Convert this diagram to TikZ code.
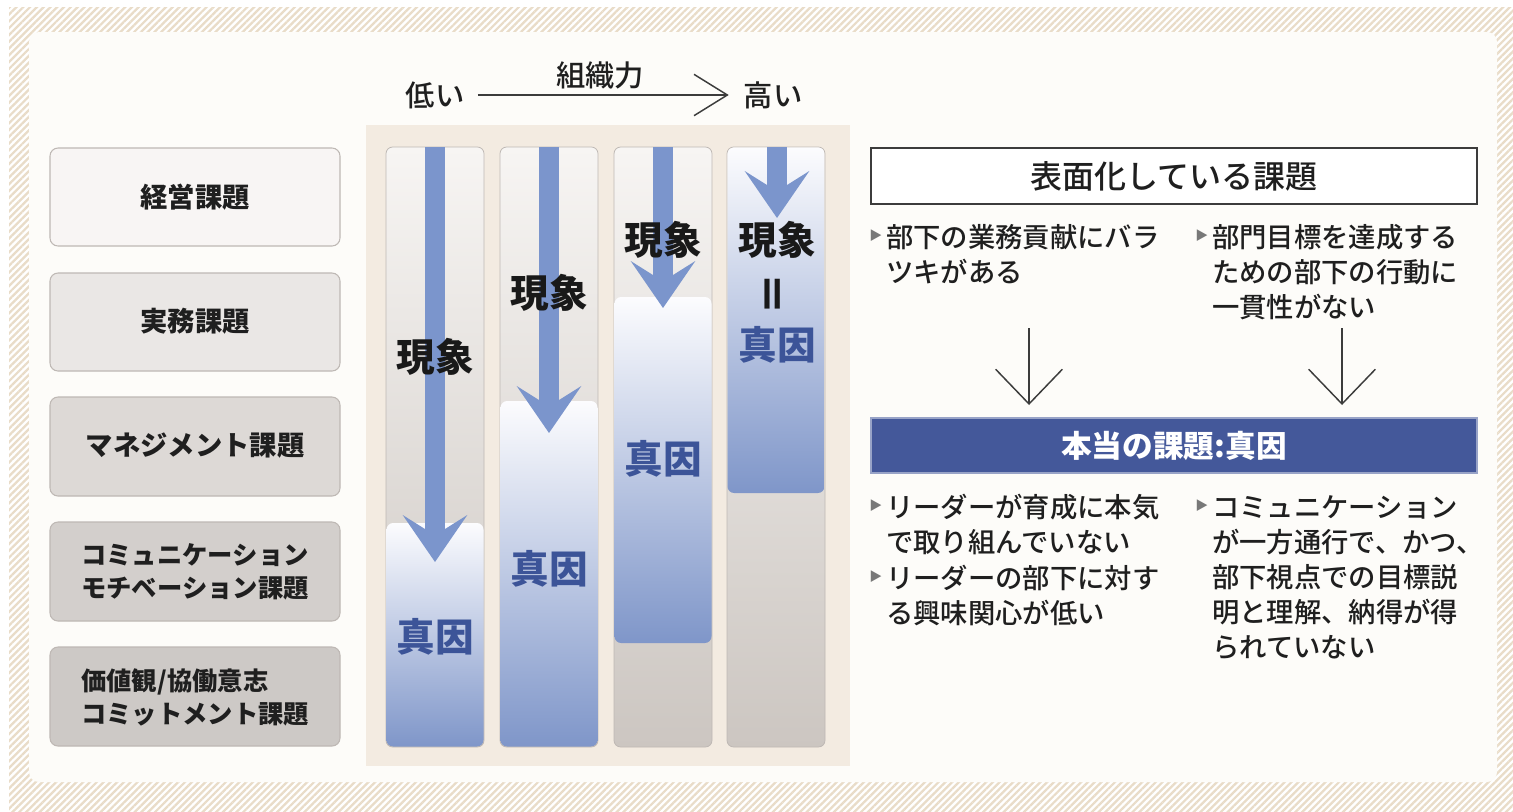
\documentclass[tikz,border=0pt]{standalone}
\usepackage{fontspec}
\setmainfont{Noto Sans CJK JP}
\newfontfamily\mediumfont{Noto Sans CJK JP Medium}
\newfontfamily\symfont{DejaVu Sans}
\usetikzlibrary{arrows.meta,patterns.meta}

\definecolor{hatchbeige}{RGB}{233,220,200}
\definecolor{cardwhite}{RGB}{253,252,249}
\definecolor{panelbeige}{RGB}{243,235,225}
\definecolor{boxedge}{RGB}{190,184,180}
\definecolor{levelA}{RGB}{248,245,244}
\definecolor{levelB}{RGB}{234,231,229}
\definecolor{levelC}{RGB}{221,217,214}
\definecolor{levelD}{RGB}{211,207,204}
\definecolor{levelE}{RGB}{205,201,198}
\definecolor{colTop}{RGB}{247,245,243}
\definecolor{colBottom}{RGB}{204,198,193}
\definecolor{causeTop}{RGB}{252,252,254}
\definecolor{causeBottom}{RGB}{127,150,201}
\definecolor{flowblue}{RGB}{123,149,204}
\definecolor{causetext}{RGB}{60,84,152}
\definecolor{bannerblue}{RGB}{68,88,154}
\definecolor{inkgray}{RGB}{60,60,60}
\definecolor{bulletgray}{RGB}{120,120,120}

\newcommand{\tribullet}{\llap{{\symfont\fontsize{24}{24}\selectfont\textcolor{bulletgray}{‣}}\hspace{0.5pt}}}

\begin{document}
\begin{tikzpicture}[x=0.75pt,y=0.75pt,yscale=-1,xscale=1,
  levelbox/.style={draw=boxedge,line width=0.8pt,rounded corners=6pt},
  levellabel/.style={font=\bfseries\fontsize{20.5}{24.75}\selectfont,inner sep=0pt,align=left,text=black!88},
  colbox/.style={draw=boxedge,line width=0.6pt,rounded corners=5pt,top color=colTop,bottom color=colBottom},
  causebox/.style={rounded corners=5pt,top color=causeTop,bottom color=causeBottom},
  flowarrow/.style={draw=flowblue,line width=14.5pt,-{Stealth[length=35pt,width=48pt,inset=15pt]}},
  phenomenon/.style={font=\bfseries\fontsize{29}{29}\selectfont,inner sep=0pt,text=black!90},
  truecause/.style={font=\bfseries\fontsize{29}{29}\selectfont,inner sep=0pt,text=causetext},
  scalelabel/.style={font=\mediumfont\fontsize{22}{22}\selectfont,inner sep=0pt,text=black!88},
  thinarrow/.style={draw=inkgray,line width=1.1pt,-{Straight Barb[length=25pt,width=31pt]}},
  downarrow/.style={draw=inkgray,line width=1.1pt,-{Straight Barb[length=26pt,width=50pt]}},
  itemtext/.style={font=\mediumfont\fontsize{20.5}{26.25}\selectfont,inner sep=0pt,anchor=west,align=left,text=black!88}
]
\useasboundingbox (0,0) rectangle (1513,811);

%Shape: hatched frame
\fill[white] (0,0) rectangle (1513,811);
\fill[pattern={Lines[angle=45,distance=3.6pt,line width=1.7pt]},pattern color=hatchbeige] (9,7) rectangle (1513,811);
\fill[cardwhite,rounded corners=7.5pt] (29,32) rectangle (1497,782);

%Shape: level boxes
\draw[levelbox,fill=levelA] (50,148) rectangle (340,246);
\draw[levelbox,fill=levelB] (50,273) rectangle (340,371);
\draw[levelbox,fill=levelC] (50,397) rectangle (340,496);
\draw[levelbox,fill=levelD] (50,522) rectangle (340,621);
\draw[levelbox,fill=levelE] (50,647) rectangle (340,746);

\node[levellabel] (mgmt) at (195,197) {経営課題};
\node[levellabel] (ops) at (195,321) {実務課題};
\node[levellabel] (manage) at (195,446) {マネジメント課題};
\node[levellabel,anchor=west,font=\bfseries\fontsize{19}{24.75}\selectfont] (commu) at (81,572) {コミュニケーション\\モチベーション課題};
\node[levellabel,anchor=west,font=\bfseries\fontsize{19}{24.75}\selectfont] (values) at (81,697) {価値観/協働意志\\コミットメント課題};

%Shape: scale on top
\node[scalelabel] (low) at (435,95) {低い};
\node[scalelabel] (high) at (773,95) {高い};
\node[scalelabel] (orgpower) at (600,75) {組織力};
\draw[thinarrow,shorten <=10pt,shorten >=11pt] (low) -- (high);

%Shape: column panel
\fill[panelbeige] (366,125) rectangle (850,766);

%Shape: columns
\draw[colbox] (386,147) rectangle (484,747);
\draw[colbox] (500,147) rectangle (598,747);
\draw[colbox] (614,147) rectangle (712,747);
\draw[colbox] (727,147) rectangle (825,747);

%Shape: true cause areas
\shade[causebox] (386.5,523) rectangle (483.5,746.5);
\shade[causebox] (500.5,401) rectangle (597.5,746.5);
\shade[causebox] (614.5,297) rectangle (711.5,643);
\shade[causebox] (727.5,147.5) rectangle (824.5,493);

%Straight Lines: flow arrows
\coordinate (top1) at (435,147);  \coordinate (tip1) at (435,562);
\coordinate (top2) at (549,147);  \coordinate (tip2) at (549,433);
\coordinate (top3) at (663,147);  \coordinate (tip3) at (663,308);
\coordinate (top4) at (777,147);  \coordinate (tip4) at (777,218);
\draw[flowarrow] (top1) -- (tip1);
\draw[flowarrow] (top2) -- (tip2);
\draw[flowarrow] (top3) -- (tip3);
\draw[flowarrow] (top4) -- (tip4);

% Text Node
\node[phenomenon] (ph1) at (435,357) {現象};
\node[phenomenon] (ph2) at (549,293) {現象};
\node[phenomenon] (ph3) at (663,240) {現象};
\node[phenomenon] (ph4) at (777,240) {現象};
\node[phenomenon,rotate=90,font=\bfseries\fontsize{32}{32}\selectfont] (equal) at (777,294) {＝};
\node[truecause] (tc1) at (435,637) {真因};
\node[truecause] (tc2) at (549,569) {真因};
\node[truecause] (tc3) at (663,459) {真因};
\node[truecause] (tc4) at (777,345) {真因};

%Shape: surface box
\draw[inkgray,line width=0.9pt,fill=white] (871,148) rectangle (1477,204);
\node[inner sep=0pt,font=\mediumfont\fontsize{24}{24}\selectfont,text=black!88] (surface) at (1174,176) {表面化している課題};

\node[itemtext] (surf1) at (886,254.5) {\tribullet 部下の業務貢献にバラ\\ツキがある};
\node[itemtext] (surf2) at (1212,272) {\tribullet 部門目標を達成する\\ための部下の行動に\\一貫性がない};

%Straight Lines: down arrows
\coordinate (downL) at (1029,328);
\coordinate (downR) at (1342,328);

%Shape: true problem banner
\draw[fill=bannerblue,draw=bannerblue!55,line width=1.2pt] (871,418) rectangle (1477,473);
\node[inner sep=0pt,font=\bfseries\fontsize{23}{23}\selectfont,text=white] (truth) at (1174,446) {本当の課題:真因};
\coordinate (bannerTop) at (1174,418);
\draw[downarrow,shorten >=9.75pt] (downL) -- (downL |- bannerTop);
\draw[downarrow,shorten >=9.75pt] (downR) -- (downR |- bannerTop);

\node[itemtext] (cause1) at (886,524.5) {\tribullet リーダーが育成に本気\\で取り組んでいない};
\node[itemtext] (cause2) at (886,595) {\tribullet リーダーの部下に対す\\る興味関心が低い};
\node[itemtext] (cause3) at (1212,577.5) {\tribullet コミュニケーション\\が一方通行で、かつ、\\部下視点での目標説\\明と理解、納得が得\\られていない};

\end{tikzpicture}
\end{document}
